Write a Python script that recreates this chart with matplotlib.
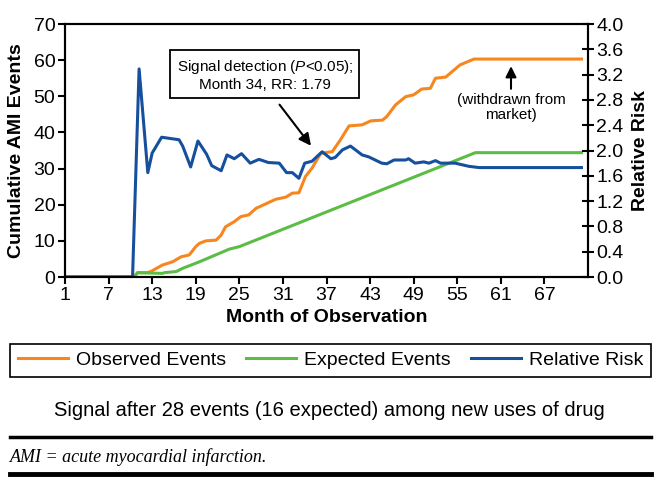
import matplotlib
matplotlib.use('Agg')
import matplotlib.pyplot as plt
from matplotlib.lines import Line2D

# series (month, value)
obs_months = [1, 10.5, 11, 12.3, 12.8, 14.4, 15.8, 17, 18.1, 19, 19.5, 20.4, 21.8, 22.5, 23.1, 24.3, 25.2,
              26.3, 27.3, 28.6, 30, 31.4, 32.3, 33.2, 34.1, 35, 36.2, 37.8, 38.9, 40.1, 41.9, 43.1, 44.7,
              45.3, 46.5, 47.9, 49, 50.1, 51.3, 52, 53.4, 55.4, 57.3, 72.1]
obs_events = [0, 0, 1.2, 1.2, 1.5, 3.3, 4.2, 5.6, 6.1, 8.4, 9.3, 10.0, 10.2, 11.6, 13.9, 15.3, 16.7,
              17.2, 19.0, 20.2, 21.5, 22.1, 23.2, 23.3, 27.8, 30.1, 34.2, 34.7, 37.9, 41.8, 42.1, 43.2, 43.4,
              44.4, 47.6, 49.9, 50.4, 52.0, 52.2, 55.0, 55.3, 58.7, 60.3, 60.3]

exp_months = [1, 10.5, 11, 14.4, 14.7, 16.3, 17.2, 19.5, 22.2, 23.6, 25, 57.5, 72.1]
exp_events = [0, 0, 1.2, 1.0, 1.2, 1.5, 2.4, 4.2, 6.5, 7.7, 8.4, 34.4, 34.4]

rr_months = [1, 10.3, 11.2, 12.4, 13, 14.3, 16.7, 17.2, 18.3, 19.3, 20.5, 21.2, 22.5, 23.3, 24.3,
             25.3, 26.5, 27.7, 29, 30.5, 31.5, 32.3, 33.2, 34, 35, 36.4, 37.6, 38.2, 39.2, 40.3,
             41.9, 42.8, 44.6, 45.3, 46.3, 47.9, 48.3, 49.2, 50.4, 51.1, 52, 52.7, 54.7, 56.6, 58, 72.1]
rel_risk = [0, 0, 3.29, 1.65, 1.96, 2.21, 2.17, 2.07, 1.74, 2.15, 1.94, 1.76, 1.68, 1.93, 1.87,
            1.95, 1.80, 1.86, 1.81, 1.80, 1.65, 1.65, 1.56, 1.80, 1.83, 1.98, 1.87, 1.89, 2.01, 2.07,
            1.93, 1.90, 1.80, 1.79, 1.85, 1.85, 1.87, 1.80, 1.82, 1.80, 1.84, 1.80, 1.80, 1.75, 1.73, 1.73]

x_ticks = list(range(1, 72, 6))
left_ticks = list(range(0, 71, 10))
right_ticks = [i * 0.4 for i in range(11)]

ORANGE = '#F7861E'
GREEN = '#5BBD45'
BLUE = '#16509C'

plt.rcParams['font.family'] = ['Liberation Sans', 'DejaVu Sans']
plt.rcParams['mathtext.fontset'] = 'custom'
plt.rcParams['mathtext.rm'] = 'Liberation Sans'
plt.rcParams['mathtext.it'] = 'Liberation Sans:italic'

fig = plt.figure(figsize=(6.58, 4.87), dpi=100)
ax = fig.add_axes([65 / 658, 1 - 277 / 487, 523 / 658, 253 / 487])
ax2 = ax.twinx()

l1, = ax.plot(obs_months, obs_events, color=ORANGE, lw=2.2)
l2, = ax.plot(exp_months, exp_events, color=GREEN, lw=2.2)
l3, = ax2.plot(rr_months, rel_risk, color=BLUE, lw=2.2)

ax.set_xlim(1, 73)
ax.set_ylim(0, 70)
ax2.set_ylim(0, 4.0)
ax.set_xticks(x_ticks)
ax.set_yticks(left_ticks)
ax2.set_yticks(right_ticks)
ax2.set_yticklabels(['%.1f' % t for t in right_ticks])

for a in (ax, ax2):
    for s in a.spines.values():
        s.set_linewidth(1.5)
ax.tick_params(axis='both', labelsize=14, width=1.5, length=5, direction='out', right=False, pad=2)
ax2.tick_params(axis='y', labelsize=14, width=1.5, length=8, direction='inout', pad=2)

ax.set_xlabel('Month of Observation', fontsize=14, fontweight='bold')
ax.xaxis.set_label_coords(0.5, -0.125)
ax.set_ylabel('Cumulative AMI Events', fontsize=14, fontweight='bold')
ax.yaxis.set_label_coords(-0.077, 0.5)
ax2.set_ylabel('Relative Risk', fontsize=14, fontweight='bold')
ax2.yaxis.set_label_coords(1.085, 0.5)

# annotations
ax.text(28.5, 55.9, 'Signal detection ($P$<0.05);\nMonth 34, RR: 1.79', ha='center', va='center',
        fontsize=11, linespacing=1.2,
        bbox=dict(boxstyle='square,pad=0.4', fc='white', ec='black', lw=1.3))
ax.annotate('', xy=(35.1, 35.7), xytext=(30.3, 48.3),
            arrowprops=dict(arrowstyle='-|>', color='black', lw=1.5, mutation_scale=18))
ax.text(62.4, 46.8, '(withdrawn from\nmarket)', ha='center', va='center', fontsize=11, linespacing=1.1)
ax.annotate('', xy=(62.4, 59.1), xytext=(62.4, 51.3),
            arrowprops=dict(arrowstyle='-|>', color='black', lw=1.5, mutation_scale=16))

leg = fig.legend([l1, l2, l3], ['Observed Events', 'Expected Events', 'Relative Risk'],
                 loc='lower left', bbox_to_anchor=(10 / 658, 1 - 377 / 487, 641 / 658, 34 / 487),
                 mode='expand', ncol=3, fontsize=14, handlelength=2.6, handletextpad=0.4,
                 borderaxespad=0, fancybox=False, edgecolor='black', framealpha=1)
leg.get_frame().set_linewidth(1.2)

fig.text(0.5, 1 - 411 / 487, 'Signal after 28 events (16 expected) among new uses of drug',
         ha='center', va='center', fontsize=14.5)
fig.add_artist(Line2D([10 / 658, 651 / 658], [1 - 437 / 487] * 2, lw=2.5, color='black'))
fig.text(10 / 658, 1 - 457 / 487, 'AMI = acute myocardial infarction.', ha='left', va='center',
         fontsize=13, style='italic', family='Liberation Serif')
fig.add_artist(Line2D([10 / 658, 651 / 658], [1 - 474 / 487] * 2, lw=3.5, color='black'))

fig.savefig('out.png', dpi=100)
